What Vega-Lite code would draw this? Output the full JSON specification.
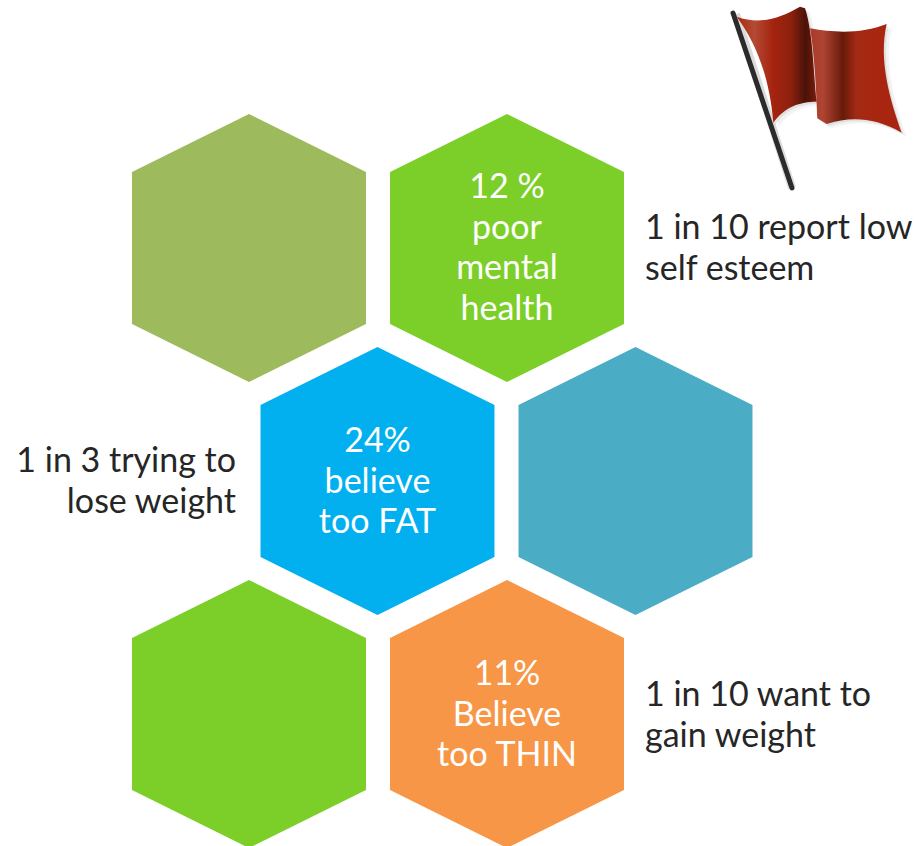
{
  "$schema": "https://vega.github.io/schema/vega-lite/v6.json",
  "width": 923,
  "height": 846,
  "padding": 0,
  "autosize": {"type": "none"},
  "background": "white",
  "view": {"stroke": null},
  "datasets": {
    "cells": [
      {"cx": 249, "cy": 248, "tone": "olive"},
      {"cx": 507, "cy": 248, "tone": "green"},
      {"cx": 377.5, "cy": 481, "tone": "blue"},
      {"cx": 635.5, "cy": 481, "tone": "teal"},
      {"cx": 249, "cy": 714, "tone": "green"},
      {"cx": 507, "cy": 714, "tone": "orange"}
    ],
    "stats": [
      {"cx": 507, "cy": 188, "label": "12 %\npoor\nmental\nhealth"},
      {"cx": 377.5, "cy": 442, "label": "24%\nbelieve\ntoo FAT"},
      {"cx": 507, "cy": 675, "label": "11%\nBelieve\ntoo THIN"}
    ],
    "notesRight": [
      {"cx": 645, "cy": 229, "label": "1 in 10 report low\nself esteem"},
      {"cx": 645, "cy": 696, "label": "1 in 10 want to\ngain weight"}
    ],
    "notesLeft": [
      {"cx": 236, "cy": 462, "label": "1 in 3 trying to\nlose weight"}
    ],
    "pole": [{"x0": 733, "y0": 13, "x1": 792, "y1": 188}],
    "flag": [{"cx": 810, "cy": 70}],
    "flagShadeNear": [{"cx": 812, "cy": 72}],
    "flagShadeFar": [{"cx": 815, "cy": 74}]
  },
  "encoding": {
    "x": {"field": "cx", "type": "quantitative", "axis": null, "scale": {"domain": [0, 923], "nice": false, "zero": false}},
    "y": {"field": "cy", "type": "quantitative", "axis": null, "scale": {"domain": [846, 0], "nice": false, "zero": false}}
  },
  "layer": [
    {
      "data": {"name": "cells"},
      "mark": {
        "type": "point", "filled": true, "opacity": 1, "size": 71824,
        "shape": "M0,-1L0.873,-0.567L0.873,0.567L0,1L-0.873,0.567L-0.873,-0.567Z"
      },
      "encoding": {
        "color": {
          "field": "tone", "type": "nominal", "legend": null,
          "scale": {
            "domain": ["olive", "green", "blue", "teal", "orange"],
            "range": ["#9DBB5C", "#7CCF28", "#02B0F0", "#4BACC6", "#F79646"]
          }
        }
      }
    },
    {
      "data": {"name": "flagShadeFar"},
      "mark": {
        "type": "point", "filled": true, "size": 40000, "color": "#999999", "opacity": 0.12,
        "shape": "M-0.733,-0.533C-0.5,-0.45,-0.3,-0.517,-0.1,-0.633L-0.05,-0.617L0,-0.417C0.267,-0.367,0.533,-0.367,0.767,-0.46C0.683,-0.1,0.8,0.3,0.917,0.627C0.633,0.467,0.4,0.467,0.167,0.54L0.073,0.483L0.067,0.317C-0.1,0.317,-0.25,0.367,-0.367,0.527C-0.4,0.1,-0.533,-0.267,-0.733,-0.533Z"
      }
    },
    {
      "data": {"name": "flagShadeNear"},
      "mark": {
        "type": "point", "filled": true, "size": 40000, "color": "#999999", "opacity": 0.2,
        "shape": "M-0.733,-0.533C-0.5,-0.45,-0.3,-0.517,-0.1,-0.633L-0.05,-0.617L0,-0.417C0.267,-0.367,0.533,-0.367,0.767,-0.46C0.683,-0.1,0.8,0.3,0.917,0.627C0.633,0.467,0.4,0.467,0.167,0.54L0.073,0.483L0.067,0.317C-0.1,0.317,-0.25,0.367,-0.367,0.527C-0.4,0.1,-0.533,-0.267,-0.733,-0.533Z"
      }
    },
    {
      "data": {"name": "pole"},
      "mark": {"type": "rule", "color": "#888888", "opacity": 0.3, "strokeWidth": 8, "xOffset": 3, "yOffset": 1},
      "encoding": {
        "x": {"field": "x0", "type": "quantitative", "axis": null, "scale": {"domain": [0, 923], "nice": false, "zero": false}},
        "y": {"field": "y0", "type": "quantitative", "axis": null, "scale": {"domain": [846, 0], "nice": false, "zero": false}},
        "x2": {"field": "x1"},
        "y2": {"field": "y1"}
      }
    },
    {
      "data": {"name": "pole"},
      "mark": {"type": "rule", "color": "#2B2B2B", "strokeWidth": 5, "strokeCap": "round"},
      "encoding": {
        "x": {"field": "x0", "type": "quantitative", "axis": null, "scale": {"domain": [0, 923], "nice": false, "zero": false}},
        "y": {"field": "y0", "type": "quantitative", "axis": null, "scale": {"domain": [846, 0], "nice": false, "zero": false}},
        "x2": {"field": "x1"},
        "y2": {"field": "y1"}
      }
    },
    {
      "data": {"name": "flag"},
      "mark": {
        "type": "point", "filled": true, "opacity": 1, "size": 40000,
        "shape": "M0,-0.417C0.267,-0.367,0.533,-0.367,0.767,-0.46C0.683,-0.1,0.8,0.3,0.917,0.627C0.633,0.467,0.4,0.467,0.167,0.54L0.073,0.483C0.067,0.3,0.05,-0.133,0,-0.417Z",
        "fill": {
          "gradient": "linear", "x1": 0, "y1": 0, "x2": 1, "y2": 0,
          "stops": [
            {"offset": 0, "color": "#A83A28"},
            {"offset": 0.14, "color": "#B04433"},
            {"offset": 0.36, "color": "#671A0A"},
            {"offset": 0.5, "color": "#A22A14"},
            {"offset": 0.72, "color": "#A8260F"},
            {"offset": 1, "color": "#A8260F"}
          ]
        }
      }
    },
    {
      "data": {"name": "flag"},
      "mark": {
        "type": "point", "filled": true, "opacity": 1, "size": 40000,
        "shape": "M-0.733,-0.533C-0.5,-0.45,-0.3,-0.517,-0.1,-0.633L-0.05,-0.617C0.033,-0.367,0.033,0.033,0.067,0.317C-0.1,0.317,-0.25,0.367,-0.367,0.527C-0.4,0.1,-0.533,-0.267,-0.733,-0.533Z",
        "fill": {
          "gradient": "linear", "x1": 0, "y1": 0, "x2": 1, "y2": 0,
          "stops": [
            {"offset": 0, "color": "#A82810"},
            {"offset": 0.22, "color": "#B44A35"},
            {"offset": 0.45, "color": "#A5240E"},
            {"offset": 0.68, "color": "#8C200E"},
            {"offset": 0.86, "color": "#4A1208"},
            {"offset": 1, "color": "#7A1C0C"}
          ]
        }
      }
    },
    {
      "data": {"name": "stats"},
      "mark": {"type": "text", "font": "Lato", "fontSize": 34, "lineHeight": 40.6, "lineBreak": "\n", "align": "center", "baseline": "middle", "color": "white"},
      "encoding": {"text": {"field": "label"}}
    },
    {
      "data": {"name": "notesRight"},
      "mark": {"type": "text", "font": "Lato", "fontSize": 34, "lineHeight": 40.6, "lineBreak": "\n", "align": "left", "baseline": "middle", "color": "#262626"},
      "encoding": {"text": {"field": "label"}}
    },
    {
      "data": {"name": "notesLeft"},
      "mark": {"type": "text", "font": "Lato", "fontSize": 34, "lineHeight": 40.6, "lineBreak": "\n", "align": "right", "baseline": "middle", "color": "#262626"},
      "encoding": {"text": {"field": "label"}}
    }
  ]
}
